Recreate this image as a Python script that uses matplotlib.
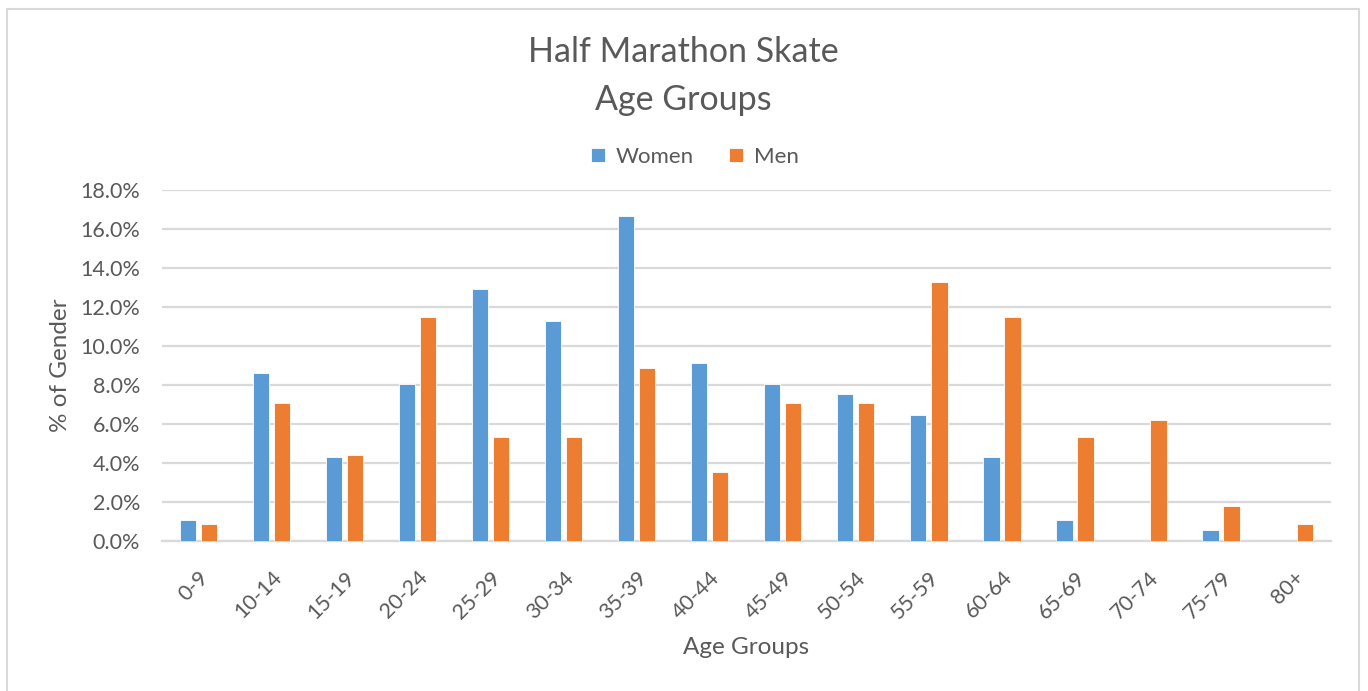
import matplotlib
matplotlib.use("Agg")
import matplotlib.pyplot as plt
import numpy as np
from matplotlib.ticker import FuncFormatter, MultipleLocator
from matplotlib.patches import Rectangle

categories = ["0-9", "10-14", "15-19", "20-24", "25-29", "30-34", "35-39", "40-44",
              "45-49", "50-54", "55-59", "60-64", "65-69", "70-74", "75-79", "80+"]
women = [1.08, 8.60, 4.30, 8.06, 12.90, 11.29, 16.67, 9.14,
         8.06, 7.53, 6.45, 4.30, 1.08, 0.0, 0.54, 0.0]
men = [0.88, 7.08, 4.42, 11.50, 5.31, 5.31, 8.85, 3.54,
       7.08, 7.08, 13.27, 11.50, 5.31, 6.19, 1.77, 0.88]

BLUE = "#5B9BD5"
ORANGE = "#ED7D31"
TXT = "#595959"
GRID = "#D9D9D9"

plt.rcParams['font.family'] = ['Lato', 'DejaVu Sans']

fig = plt.figure(figsize=(13.68, 6.91), dpi=100)
ax = fig.add_axes([161.7/1368, 1 - 541/691, (1330.7-161.7)/1368, (541-190)/691])

x = np.arange(len(categories))
w = 0.223
off = 0.144
ax.bar(x - off, women, width=w, color=BLUE, label="Women", edgecolor="white", linewidth=0.6, zorder=3)
ax.bar(x + off, men, width=w, color=ORANGE, label="Men", edgecolor="white", linewidth=0.6, zorder=3)

ax.set_xlim(-0.5, len(categories) - 0.5)
ax.set_ylim(0, 18)
ax.yaxis.set_major_locator(MultipleLocator(2))
ax.yaxis.set_major_formatter(FuncFormatter(lambda v, p: f"{v:.1f}%"))
ax.grid(axis="y", color=GRID, linewidth=1.6, zorder=0)
ax.set_axisbelow(True)
for s in ["top", "right", "left"]:
    ax.spines[s].set_visible(False)
ax.spines["bottom"].set_color(GRID)
ax.spines["bottom"].set_linewidth(1.6)
ax.tick_params(axis="both", length=0, colors=TXT, labelsize=15.5)
ax.tick_params(axis="y", pad=15.5)
ax.set_xticks(x)
ax.set_xticklabels(categories, rotation=45, ha="right", va="top", rotation_mode="anchor")
ax.tick_params(axis="x", pad=19)

ax.set_ylabel("% of Gender", color=TXT, fontsize=17.5)
ax.yaxis.set_label_coords(-0.078, 0.5)
ax.set_xlabel("Age Groups", color=TXT, fontsize=17.5)
ax.xaxis.set_label_coords(0.5, -0.273)

fig.text(683/1368, 1 - 76/691, "Half Marathon Skate\nAge Groups", ha="center", va="center",
         fontsize=24.5, color=TXT, linespacing=1.6)

leg = fig.legend(loc="center", bbox_to_anchor=(695/1368, 1 - 157/691), ncol=2, frameon=False,
                 fontsize=16, handlelength=0.6, handleheight=0.6, columnspacing=1.6,
                 handletextpad=0.5)
for t in leg.get_texts():
    t.set_color(TXT)

fig.patches.append(Rectangle((6.5/1368, -0.05), (1359-6.5)/1368, 1 - 8.5/691 + 0.05,
                             transform=fig.transFigure, fill=False, edgecolor=GRID,
                             linewidth=1.5, figure=fig))

fig.savefig("out.png", dpi=100)
